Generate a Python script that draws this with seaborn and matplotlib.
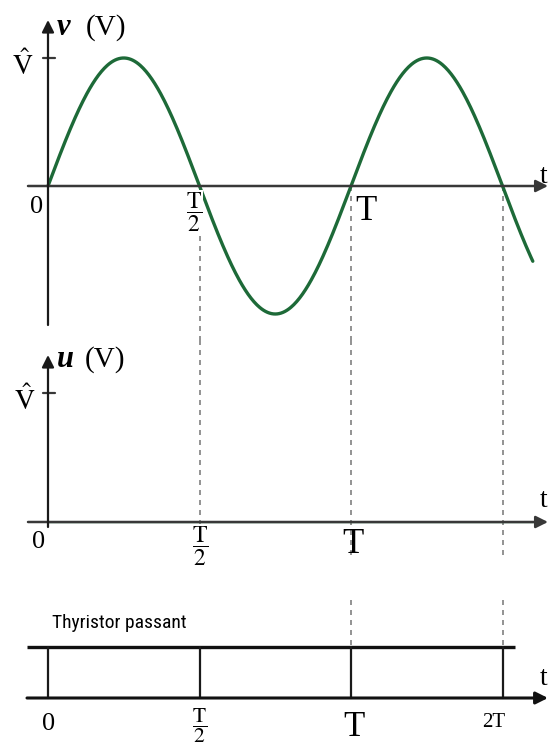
import numpy as np
import pandas as pd
import matplotlib
matplotlib.use("Agg")
import matplotlib.pyplot as plt
import seaborn as sns

# ---- data (time in units of the period T, voltage in units of V-hat) ----
period = 1.0
v_peak = 1.0
t_end = 1.6                      # where the drawn supply trace stops
u_levels = [0.0, 0.0]            # load voltage u stays at zero
u_times = [0.0, t_end]
mark_times = [0.0, 0.5, 1.0, 1.5]            # 0, T/2, T, 3T/2 grid
upper_labels = ["0", r"$\dfrac{\mathrm{T}}{2}$", "T"]
lower_labels = ["0", r"$\dfrac{\mathrm{T}}{2}$", "T", "2T"]
state_label = "Thyristor passant"

t = np.linspace(0.0, t_end, 500)
supply = pd.DataFrame({"t": t, "v": v_peak * np.sin(2 * np.pi * t / period)})

sns.set_theme(style="white")
plt.rcParams["font.family"] = ["Liberation Serif", "DejaVu Serif"]
plt.rcParams["mathtext.fontset"] = "stix"
plt.rcParams["text.color"] = "black"

W, H = 549, 746
fig = plt.figure(figsize=(W / 100, H / 100), dpi=100)
fig.patch.set_facecolor("white")

x0 = 48.0      # pixel column of t = 0
xs = 303.0     # pixels per period
XL = (-x0 / xs, (W - x0) / xs)

AX_COL = "#383838"
GREEN = "#1d6a38"
DASH = "#808080"
FRAC_BOX = dict(facecolor="white", edgecolor="none", pad=0.5)


def px(xp):
    return (xp - x0) / xs


def panel(top_px, bot_px, zero_px, unit_px):
    ax = fig.add_axes([0, 1 - bot_px / H, 1, (bot_px - top_px) / H])
    ax.set_xlim(*XL)
    ax.set_ylim((zero_px - bot_px) / unit_px, (zero_px - top_px) / unit_px)
    ax.axis("off")
    return ax


def arrow(ax, p0, p1, color, lw, ms=18):
    ax.annotate("", xy=p1, xytext=p0,
                arrowprops=dict(arrowstyle="-|>", color=color, lw=lw,
                                mutation_scale=ms, shrinkA=0, shrinkB=0))


t_left = px(28)
t_arrow = px(548)

# ---------------- upper panel: supply voltage v ----------------
Z1, U1 = 186, 128
ax1 = panel(0, 340, Z1, U1)
for tm in mark_times[1:]:
    ax1.plot([tm, tm], [0, (Z1 - 340) / U1], ls=(0, (3, 3)), color=DASH, lw=1.2, zorder=1)
sns.lineplot(data=supply, x="t", y="v", ax=ax1, color=GREEN, lw=2.4, zorder=3)
arrow(ax1, (t_left, 0), (t_arrow, 0), AX_COL, 1.8)
arrow(ax1, (0, (Z1 - 325) / U1), (0, (Z1 - 20) / U1), "#1a1a1a", 1.6)
ax1.plot([px(43), px(55)], [v_peak, v_peak], color=AX_COL, lw=1.6)
ax1.text(px(57), (Z1 - 35) / U1, "v", fontsize=22,
         fontstyle="italic", fontweight="bold", va="baseline", ha="left")
ax1.text(px(86), (Z1 - 35) / U1, "(V)", fontsize=21, va="baseline", ha="left")
ax1.text(px(23), (Z1 - 75) / U1, r"$\hat{\mathrm{V}}$", fontsize=20,
         va="baseline", ha="center")
ax1.text(px(37), (Z1 - 213) / U1, upper_labels[0], fontsize=19,
         va="baseline", ha="center")
ax1.text(px(194), (Z1 - 191) / U1, upper_labels[1], fontsize=17,
         va="top", ha="center", bbox=FRAC_BOX, zorder=4)
ax1.text(px(355), (Z1 - 220) / U1, upper_labels[2], fontsize=25,
         va="baseline", ha="left")
ax1.text(px(540), (Z1 - 183) / U1, "t", fontsize=20, va="baseline", ha="left")

# ---------------- middle panel: load voltage u ----------------
Z2, U2 = 522, 129
ax2 = panel(340, 580, Z2, U2)
for tm in mark_times[1:]:
    ax2.plot([tm, tm], [(Z2 - 340) / U2, (Z2 - 560) / U2], ls=(0, (3, 3)),
             color=DASH, lw=1.2, zorder=1)
sns.lineplot(x=u_times, y=u_levels, ax=ax2, color=GREEN, lw=1.0, zorder=2)
arrow(ax2, (t_left, 0), (t_arrow, 0), AX_COL, 1.8)
arrow(ax2, (0, (Z2 - 527) / U2), (0, (Z2 - 355) / U2), "#1a1a1a", 1.6)
ax2.plot([px(43), px(55)], [v_peak, v_peak], color=AX_COL, lw=1.6)
ax2.text(px(57), (Z2 - 367) / U2, "u", fontsize=22,
         fontstyle="italic", fontweight="bold", va="baseline", ha="left")
ax2.text(px(85), (Z2 - 367) / U2, "(V)", fontsize=21, va="baseline", ha="left")
ax2.text(px(25), (Z2 - 410) / U2, r"$\hat{\mathrm{V}}$", fontsize=20,
         va="baseline", ha="center")
ax2.text(px(39), (Z2 - 548) / U2, lower_labels[0], fontsize=19,
         va="baseline", ha="center")
ax2.text(px(200), (Z2 - 525) / U2, upper_labels[1], fontsize=17,
         va="top", ha="center", bbox=FRAC_BOX, zorder=4)
ax2.text(px(353), (Z2 - 553) / U2, upper_labels[2], fontsize=25,
         va="baseline", ha="center")
ax2.text(px(540), (Z2 - 507) / U2, "t", fontsize=20, va="baseline", ha="left")

# ---------------- lower panel: thyristor state ----------------
Z3, U3 = 698, 51
ax3 = panel(580, 746, Z3, U3)
for tm in mark_times[2:]:
    ax3.plot([tm, tm], [(Z3 - 600) / U3, 1.0], ls=(0, (3, 3)), color=DASH, lw=1.2, zorder=1)
ax3.plot([px(27), px(515)], [1, 1], color="#111111", lw=2.4, solid_capstyle="butt")
arrow(ax3, (px(27), 0), (t_arrow, 0), "#111111", 2.2)
for tm in mark_times:
    ax3.plot([tm, tm], [0, 1], color="#1a1a1a", lw=1.6)
ax3.text(px(52), (Z3 - 628) / U3, state_label, fontsize=14,
         family=["Roboto Condensed", "Liberation Sans Narrow", "DejaVu Sans"],
         fontstretch="condensed", va="baseline", ha="left")
ax3.text(px(49), (Z3 - 730) / U3, lower_labels[0], fontsize=19,
         va="baseline", ha="center")
ax3.text(px(200), (Z3 - 706) / U3, lower_labels[1], fontsize=15.5,
         va="top", ha="center")
ax3.text(px(354), (Z3 - 736) / U3, lower_labels[2], fontsize=25,
         va="baseline", ha="center")
ax3.text(px(494), (Z3 - 727) / U3, lower_labels[3], fontsize=15,
         va="baseline", ha="center")
ax3.text(px(540), (Z3 - 685) / U3, "t", fontsize=20, va="baseline", ha="left")

fig.savefig("out.png", dpi=100, facecolor="white")
